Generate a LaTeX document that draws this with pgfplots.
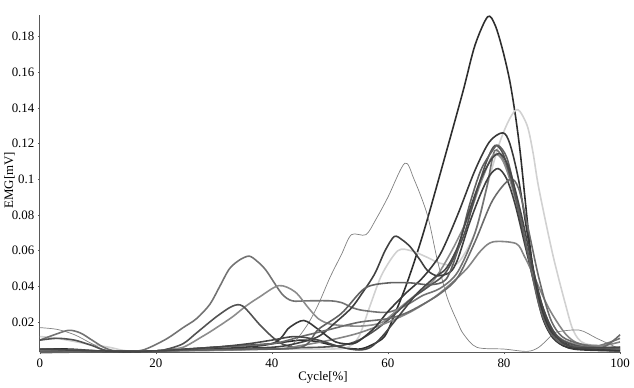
\documentclass[border=0pt]{standalone}
\usepackage{fontspec}
\setmainfont{Liberation Serif}
\usepackage{pgfplots}
\pgfplotsset{compat=1.18}
\begin{document}
\fontsize{13pt}{15pt}\selectfont
\begin{tikzpicture}
\begin{axis}[
  scale only axis,
  width=585pt, height=340pt,
  xmin=0, xmax=100, ymin=0.0033, ymax=0.192,
  axis x line=bottom, axis y line=left,
  axis line style={draw=black!65, line width=0.8pt, -},
  xtick={0,20,40,60,80,100},
  ytick={0.02,0.04,0.06,0.08,0.1,0.12,0.14,0.16,0.18},
  scaled y ticks=false,
  tick style={draw=black!65, line width=0.6pt},
  major tick length=2pt,
  tick align=outside,
  /pgf/number format/assume math mode=true,
  yticklabel style={/pgf/number format/fixed, /pgf/number format/precision=2, font=\fontsize{13pt}{15pt}\selectfont, xshift=1pt},
  xticklabel style={font=\fontsize{13pt}{15pt}\selectfont},
  xlabel={Cycle[\%]}, ylabel={EMG[mV]},
  every axis x label/.style={at={(axis description cs:0.488,-0.074)}, anchor=center, font=\fontsize{13pt}{15pt}\selectfont},
  every axis y label/.style={at={(axis description cs:-0.052,0.51)}, anchor=center, rotate=90, font=\fontsize{13pt}{15pt}\selectfont},
  clip=false,
  every axis plot/.append style={smooth, tension=0.5, line width=1.6pt, line join=round}
]
% curve 1 darkest big peak
\addplot[color=black!82] coordinates {(0,0.005) (5,0.005) (10,0.004) (15,0.0035) (20,0.004) (25,0.005) (30,0.006) (35,0.007) (40,0.008) (45,0.010) (48,0.009) (52,0.006) (55,0.005) (57,0.007) (59.4,0.012) (61.1,0.024) (63.4,0.043) (66.2,0.071) (70.2,0.117) (73,0.150) (75,0.175) (77.2,0.191) (78.5,0.186) (79.8,0.172) (81,0.155) (82,0.135) (82.8,0.115) (83.6,0.090) (84.4,0.065) (85.4,0.040) (86.7,0.022) (88.5,0.011) (91,0.006) (96,0.005) (100,0.005)};
% curve 2 very light
\addplot[color=black!18] coordinates {(0,0.012) (3,0.011) (8,0.008) (12,0.006) (15,0.004) (20,0.004) (30,0.005) (40,0.005) (50,0.005) (53,0.006) (55,0.012) (57,0.030) (59,0.047) (61.7,0.060) (64,0.060) (67,0.056) (69,0.053) (72,0.053) (75,0.070) (77,0.095) (79.2,0.120) (81,0.134) (82.4,0.139) (84,0.130) (85,0.115) (86,0.095) (88.4,0.058) (90.6,0.030) (92,0.015) (94,0.008) (100,0.006)};
% curve 3 thin gray
\addplot[color=black!50, line width=0.7pt] coordinates {(0,0.017) (3,0.016) (6,0.013) (9,0.008) (12,0.004) (20,0.004) (30,0.004) (40,0.005) (43,0.006) (46,0.018) (48,0.030) (50,0.045) (52,0.058) (53.7,0.069) (56.2,0.069) (58,0.078) (60,0.090) (62.9,0.109) (64.5,0.100) (66.8,0.080) (68.5,0.055) (70.2,0.034) (72,0.020) (73,0.0135) (75.3,0.006) (80,0.005) (84,0.0037) (86,0.006) (88,0.012) (89,0.0145) (93,0.0156) (96,0.011) (100,0.005)};
% curve 4 medium gray peak at 36
\addplot[color=black!55] coordinates {(0,0.010) (2.5,0.013) (5,0.0155) (7,0.014) (9,0.010) (11,0.006) (13,0.004) (17,0.004) (19,0.006) (22,0.011) (24.7,0.017) (27,0.022) (29.3,0.030) (31,0.040) (32.7,0.050) (34.5,0.055) (36.1,0.057) (37.5,0.054) (39,0.049) (41.7,0.036) (43.5,0.032) (46,0.032) (50,0.032) (52,0.031) (54,0.028) (56,0.0265) (60,0.0256) (63.4,0.030) (66,0.035) (69,0.039) (72,0.048) (75,0.070) (77,0.095) (78.4,0.116) (80,0.110) (82,0.090) (84,0.060) (86,0.035) (88,0.018) (90,0.010) (95,0.006) (100,0.011)};
% curve 5 medium gray peak at 41
\addplot[color=black!45] coordinates {(0,0.005) (10,0.004) (20,0.004) (22,0.005) (24.7,0.006) (28,0.012) (30,0.016) (33.2,0.023) (35.5,0.029) (37.8,0.034) (41.2,0.0405) (44,0.037) (46.3,0.028) (48,0.022) (50,0.019) (53,0.018) (56,0.018) (59,0.020) (62,0.028) (65,0.036) (68,0.044) (71,0.060) (74,0.080) (76,0.098) (78,0.113) (79.5,0.112) (81,0.100) (83,0.075) (85,0.045) (87,0.025) (89,0.013) (92,0.008) (100,0.005)};
% curve 6 dark gray peak at 34
\addplot[color=black!68] coordinates {(0,0.010) (3,0.011) (6,0.010) (9,0.007) (12,0.004) (20,0.004) (22,0.005) (24.7,0.008) (27,0.014) (30.4,0.023) (33.2,0.029) (35,0.029) (37.8,0.019) (40,0.012) (41.7,0.008) (44,0.006) (48,0.006) (52,0.007) (55,0.010) (58,0.016) (61,0.024) (64,0.033) (67,0.040) (70,0.048) (73,0.068) (75,0.090) (77,0.110) (78.5,0.119) (80,0.113) (82,0.090) (84,0.060) (86,0.035) (88,0.018) (90,0.010) (94,0.006) (100,0.006)};
% curve 7 dark with bump at 61
\addplot[color=black!75] coordinates {(0,0.004) (10,0.0035) (20,0.004) (30,0.005) (40,0.006) (44,0.008) (48,0.012) (51,0.020) (53.7,0.028) (55.5,0.036) (57.7,0.047) (59.5,0.060) (61.1,0.068) (62.5,0.066) (63.9,0.062) (65.5,0.055) (66.8,0.049) (68.5,0.046) (70.7,0.048) (72,0.055) (74,0.075) (76,0.092) (77.5,0.102) (79,0.106) (80.5,0.100) (82,0.085) (84,0.058) (86,0.032) (88,0.016) (90,0.009) (94,0.005) (100,0.004)};
% curve 8 gray flat top
\addplot[color=black!48] coordinates {(0,0.004) (20,0.004) (40,0.005) (45,0.007) (50,0.010) (55,0.014) (60,0.020) (64,0.026) (68,0.034) (71,0.042) (73.6,0.050) (76,0.060) (78.1,0.065) (82.1,0.064) (83.5,0.057) (85,0.047) (87.7,0.028) (90.6,0.0135) (93,0.008) (97,0.007) (100,0.009)};
% curve 9 dark tallest of group
\addplot[color=black!78] coordinates {(0,0.004) (20,0.004) (30,0.005) (40,0.008) (43,0.017) (45.5,0.021) (48,0.016) (51,0.009) (54,0.008) (56,0.012) (58,0.018) (60,0.026) (63,0.036) (66,0.045) (69,0.058) (72,0.080) (75,0.105) (77.5,0.121) (79.8,0.126) (81,0.120) (82.5,0.100) (84,0.070) (85.5,0.042) (87,0.022) (89,0.010) (92,0.005) (100,0.004)};
% curve 10 mid gray peak 0.1 at 81
\addplot[color=black!58] coordinates {(0,0.004) (20,0.004) (30,0.006) (40,0.008) (45,0.012) (50,0.016) (55,0.020) (60,0.022) (63,0.025) (66,0.030) (69,0.036) (72,0.045) (75,0.065) (78,0.088) (81,0.100) (82.5,0.095) (84,0.075) (86,0.045) (88,0.022) (90,0.012) (93,0.008) (97,0.006) (100,0.013)};
% curve 11 gray with flat 0.042
\addplot[color=black!62] coordinates {(0,0.003) (20,0.004) (35,0.005) (45,0.006) (48,0.016) (52,0.025) (56,0.039) (60,0.042) (64,0.042) (67.3,0.041) (70,0.044) (72,0.060) (74,0.085) (76,0.105) (78,0.116) (79,0.119) (80.5,0.112) (82,0.092) (84,0.060) (86,0.030) (88,0.014) (91,0.007) (100,0.005)};
% curve 12 dark low
\addplot[color=black!72] coordinates {(0,0.005) (10,0.004) (20,0.004) (30,0.006) (36,0.008) (40,0.010) (44,0.012) (48,0.010) (52,0.006) (55,0.0045) (57,0.006) (59,0.012) (62,0.024) (65,0.036) (68,0.045) (70,0.050) (72,0.062) (74,0.082) (76,0.100) (78,0.112) (79.5,0.114) (81,0.105) (83,0.080) (85,0.050) (87,0.025) (89,0.012) (92,0.006) (100,0.006)};
\end{axis}
\path (current axis.south west) ++(-38pt,-33pt) rectangle ++(634pt,388pt);
\end{tikzpicture}
\end{document}
